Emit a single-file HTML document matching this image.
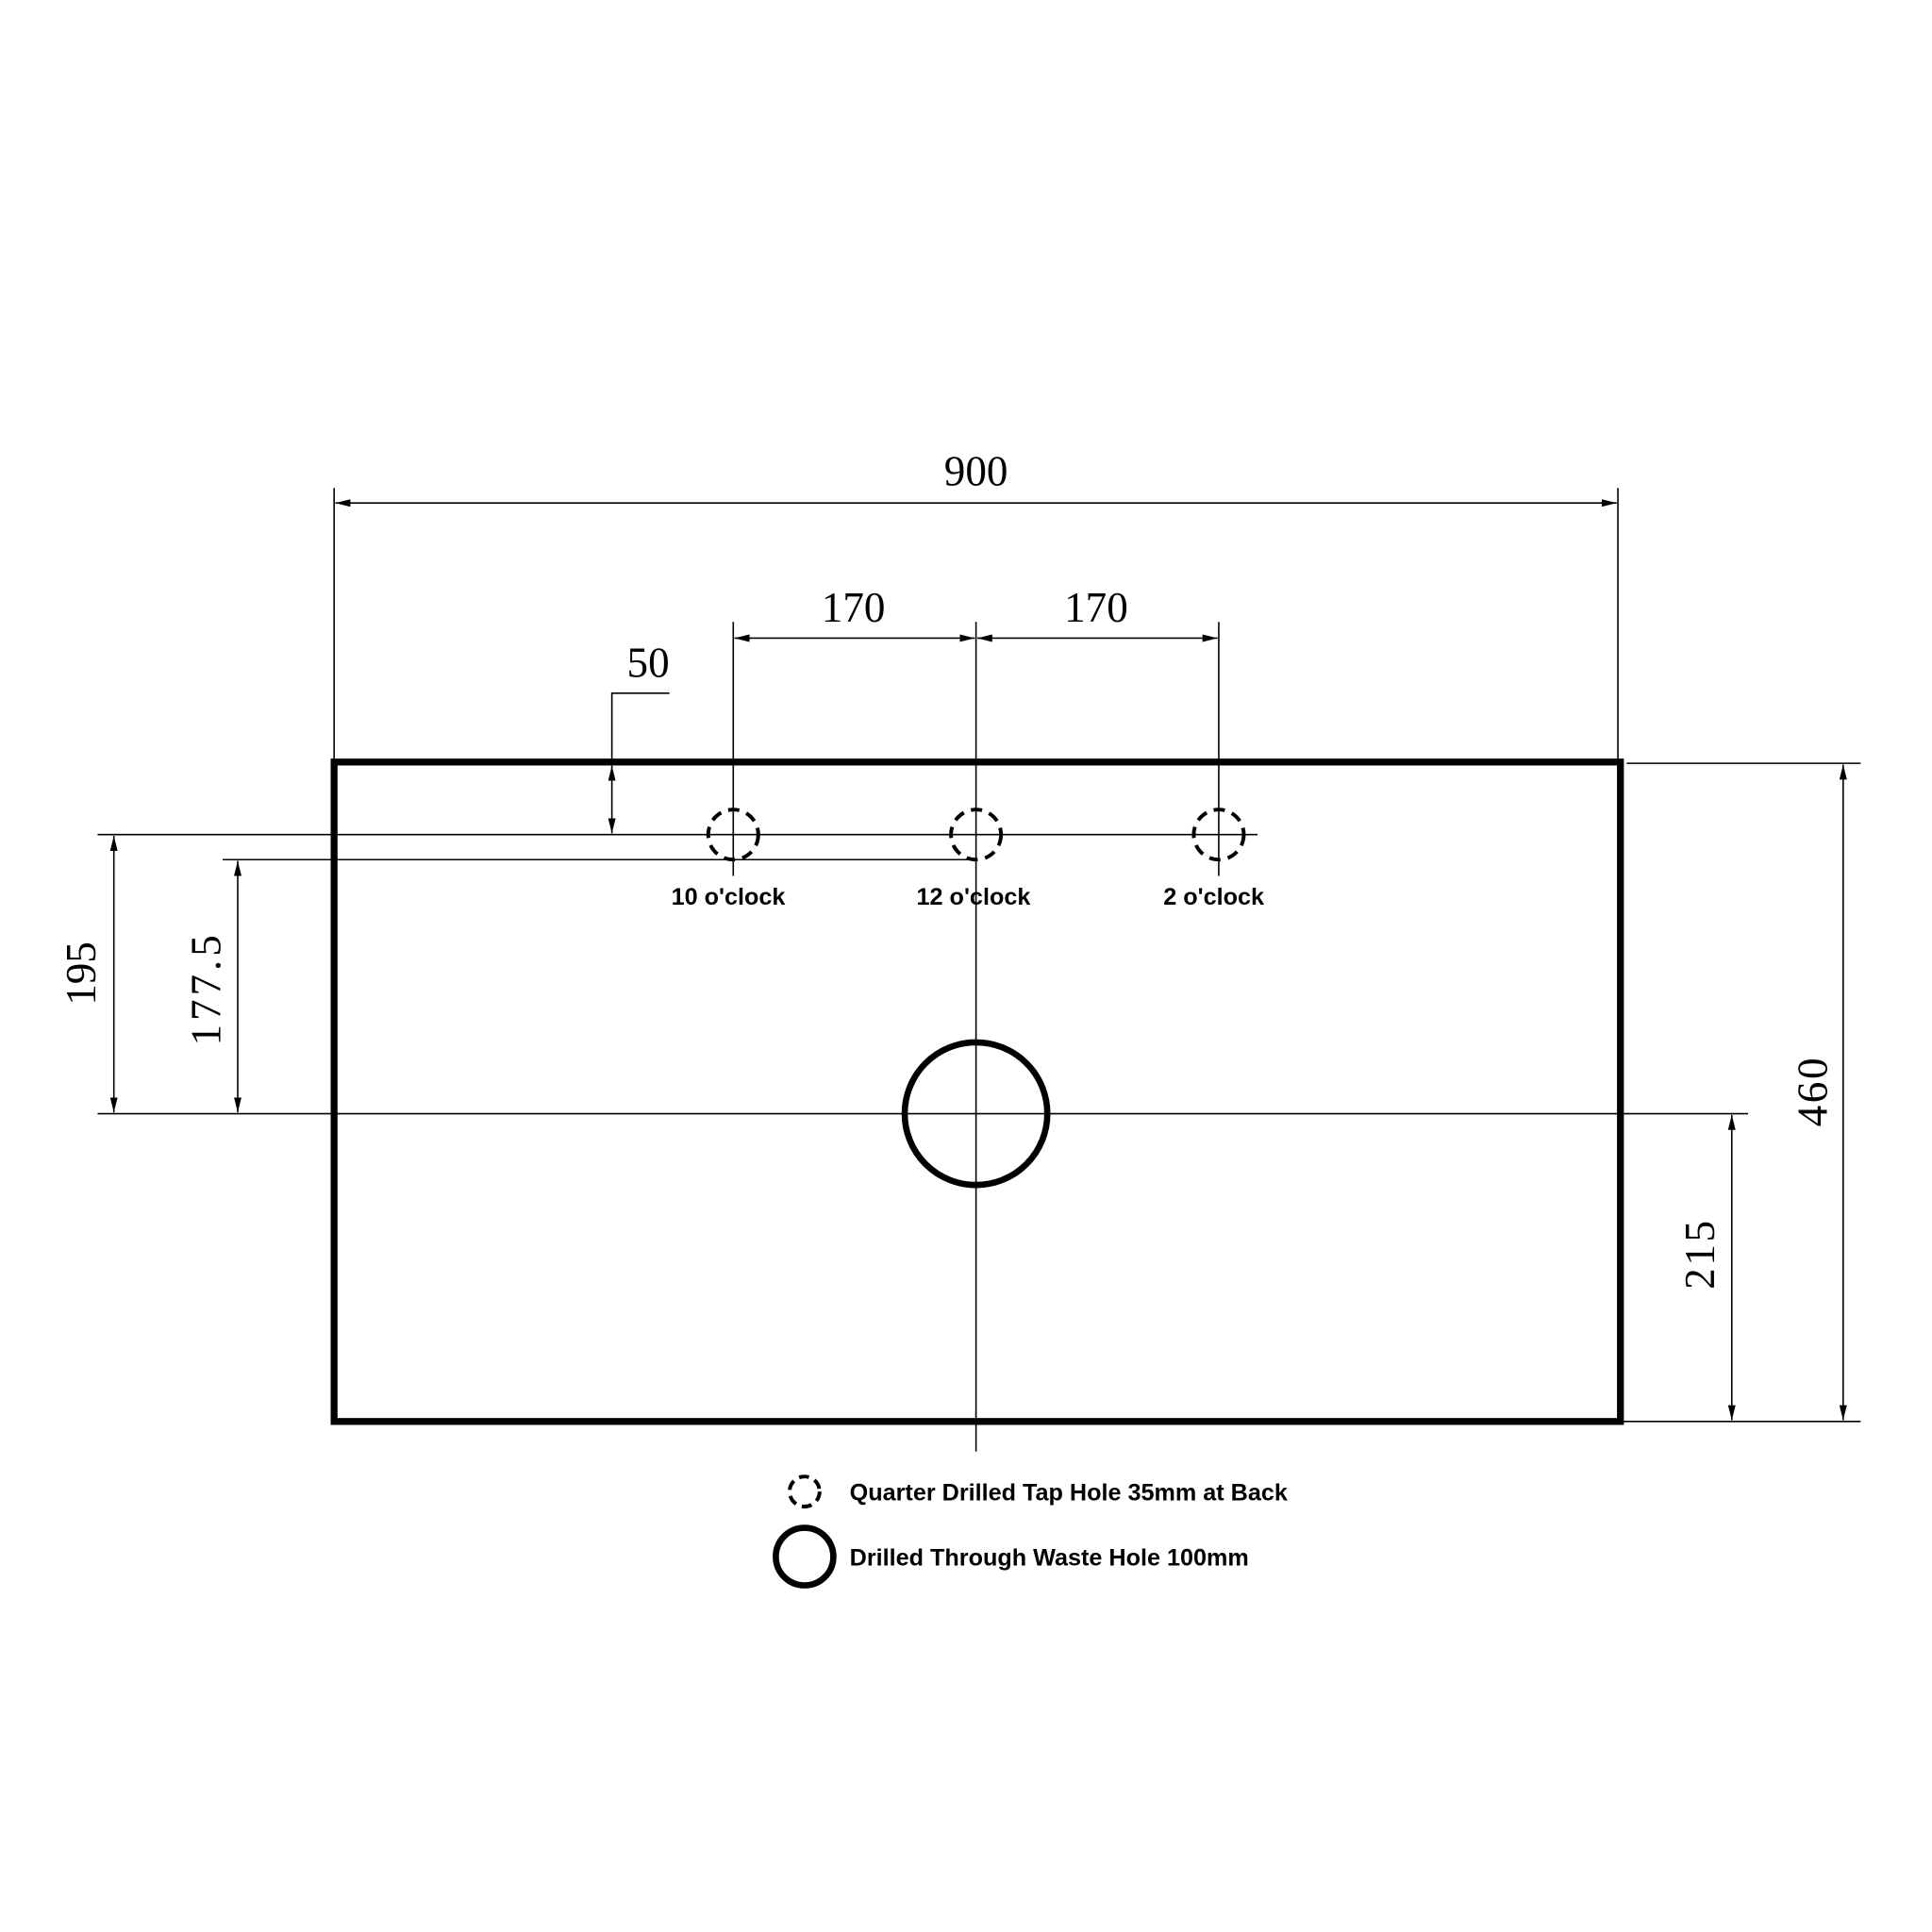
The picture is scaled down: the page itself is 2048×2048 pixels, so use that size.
<!DOCTYPE html>
<html><head><meta charset="utf-8"><style>html,body{margin:0;padding:0;background:#fff;}svg{display:block}</style></head>
<body>
<svg width="2048" height="2048" viewBox="0 0 1544 1544" xmlns="http://www.w3.org/2000/svg">
<defs>
<marker id="a" viewBox="0 0 12 6" refX="12" refY="3" markerWidth="12" markerHeight="6" markerUnits="userSpaceOnUse" orient="auto-start-reverse"><path d="M0,0 L12,3 L0,6 Z" fill="#000"/></marker>
</defs>
<rect width="1544" height="1544" fill="#fff"/>
<g stroke="#000" fill="none" stroke-width="1.2">
<!-- 900 -->
<line x1="267" y1="390" x2="267" y2="609"/>
<line x1="1293" y1="390" x2="1293" y2="609"/>
<line x1="268" y1="402" x2="1292" y2="402" marker-start="url(#a)" marker-end="url(#a)"/>
<!-- 170 ext lines -->
<line x1="586" y1="497" x2="586" y2="700"/>
<line x1="780" y1="497" x2="780" y2="1160"/>
<line x1="974" y1="497" x2="974" y2="700"/>
<line x1="587" y1="510" x2="779" y2="510" marker-start="url(#a)" marker-end="url(#a)"/>
<line x1="781" y1="510" x2="973" y2="510" marker-start="url(#a)" marker-end="url(#a)"/>
<!-- 50 -->
<polyline points="535,554 489,554 489,612"/>
<line x1="489" y1="612" x2="489" y2="666" marker-start="url(#a)" marker-end="url(#a)"/>
<!-- center lines -->
<line x1="78" y1="667" x2="1005" y2="667"/>
<line x1="178" y1="687" x2="780" y2="687"/>
<line x1="78" y1="890" x2="1397" y2="890"/>
<!-- 195 / 177.5 -->
<line x1="91" y1="668" x2="91" y2="889" marker-start="url(#a)" marker-end="url(#a)"/>
<line x1="190" y1="688" x2="190" y2="889" marker-start="url(#a)" marker-end="url(#a)"/>
<!-- 460 / 215 -->
<line x1="1300" y1="610" x2="1487" y2="610"/>
<line x1="1297" y1="1136" x2="1487" y2="1136"/>
<line x1="1473" y1="611" x2="1473" y2="1135" marker-start="url(#a)" marker-end="url(#a)"/>
<line x1="1384" y1="891" x2="1384" y2="1135" marker-start="url(#a)" marker-end="url(#a)"/>
</g>
<rect x="267" y="609" width="1028" height="527" fill="none" stroke="#000" stroke-width="5.5"/>
<g fill="none" stroke="#000" stroke-width="3" stroke-dasharray="9 6">
<circle cx="586" cy="667" r="20"/>
<circle cx="780" cy="667" r="20"/>
<circle cx="974" cy="667" r="20"/>
<circle cx="643" cy="1192" r="12" stroke-dasharray="8 5"/>
</g>
<circle cx="780" cy="890" r="57" fill="none" stroke="#000" stroke-width="5"/>
<circle cx="643" cy="1244" r="23" fill="none" stroke="#000" stroke-width="5"/>
<g font-family="Liberation Serif, serif" font-size="34" fill="#000" text-anchor="middle">
<text x="780" y="388">900</text>
<text x="682" y="497">170</text>
<text x="876" y="497">170</text>
<text x="518" y="541">50</text>
<text transform="translate(76,778) rotate(-90)">195</text>
<text transform="translate(176,790) rotate(-90)" letter-spacing="3">177.5</text>
<text transform="translate(1460,872) rotate(-90)" letter-spacing="2">460</text>
<text transform="translate(1370,1002) rotate(-90)" letter-spacing="2">215</text>
</g>
<g font-family="Liberation Sans Narrow, Liberation Sans, sans-serif" font-size="19" fill="#000" font-weight="bold">
<text x="582" y="723" text-anchor="middle">10 o'clock</text>
<text x="778" y="723" text-anchor="middle">12 o'clock</text>
<text x="970" y="723" text-anchor="middle">2 o'clock</text>
<text x="679" y="1199">Quarter Drilled Tap Hole 35mm at Back</text>
<text x="679" y="1251">Drilled Through Waste Hole 100mm</text>
</g>
</svg>
</body></html>
